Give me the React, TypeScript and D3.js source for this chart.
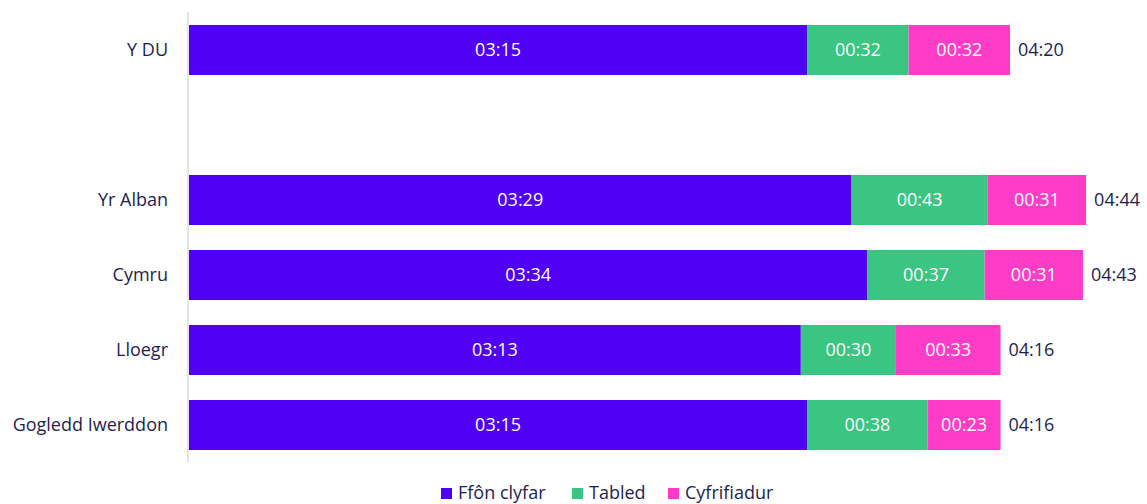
import React from "react";
import * as d3 from "d3";

const categories = ["Y DU", "", "Yr Alban", "Cymru", "Lloegr", "Gogledd Iwerddon"];
const seriesNames = ["Ffôn clyfar", "Tabled", "Cyfrifiadur"];
const smartphone = ["03:15", "", "03:29", "03:34", "03:13", "03:15"];
const tablet = ["00:32", "", "00:43", "00:37", "00:30", "00:38"];
const computer = ["00:32", "", "00:31", "00:31", "00:33", "00:23"];
const totals = ["04:20", "", "04:44", "04:43", "04:16", "04:16"];
const colors = ["#5000F5", "#3AC582", "#FF3CC8"];

const toSec = (s: string) => {
  if (!s) return 0;
  const [m, sec] = s.split(":").map(Number);
  return m * 60 + sec;
};

export default function App() {
  const W = 1147, H = 504;
  const left = 188, top = 12.5, bottom = 462.5;
  const x = d3.scaleLinear().domain([0, 300]).range([left + 1, left + 1 + 300 * 3.17]);
  const y = d3.scaleBand().domain(categories.map((c, i) => String(i))).range([top, bottom]).paddingInner(0.333).paddingOuter(0.1665);
  const series = [smartphone, tablet, computer];
  const font = "'Open Sans', 'Noto Sans', sans-serif";
  const textCol = "#1E1E50";
  const fs = 18;

  const legendItems = [
    { x: 441, label: seriesNames[0] },
    { x: 572, label: seriesNames[1] },
    { x: 668, label: seriesNames[2] },
  ];

  return (
    <svg width={W} height={H} style={{ position: "absolute", left: 0, top: 0, background: "#fff" }} fontFamily={font}>
      {categories.map((c, i) => {
        if (!c) return null;
        const by = y(String(i))!;
        const bh = y.bandwidth();
        let acc = 0;
        const segs = series.map((s, k) => {
          const v = toSec(s[i]);
          const x0 = x(acc);
          acc += v;
          const x1 = x(acc);
          return (
            <g key={k}>
              <rect x={x0} y={by} width={x1 - x0} height={bh} fill={colors[k]} />
              <text x={(x0 + x1) / 2} y={by + bh / 2} dy="0.35em" textAnchor="middle" fill="#fff" fontSize={fs}>
                {s[i]}
              </text>
            </g>
          );
        });
        return (
          <g key={i}>
            <text x={168} y={by + bh / 2} dy="0.35em" textAnchor="end" fill={textCol} fontSize={fs}>
              {c}
            </text>
            {segs}
            <text x={x(acc) + 8} y={by + bh / 2} dy="0.35em" fill={textCol} fontSize={fs}>
              {totals[i]}
            </text>
          </g>
        );
      })}
      <line x1={left} x2={left} y1={12} y2={462} stroke="#C8C8C8" strokeWidth={1} />
      {legendItems.map((l, k) => (
        <g key={k}>
          <rect x={l.x} y={488} width={11} height={11} fill={colors[k]} />
          <text x={l.x + 17} y={493} dy="0.35em" fill={textCol} fontSize={fs}>
            {l.label}
          </text>
        </g>
      ))}
    </svg>
  );
}
